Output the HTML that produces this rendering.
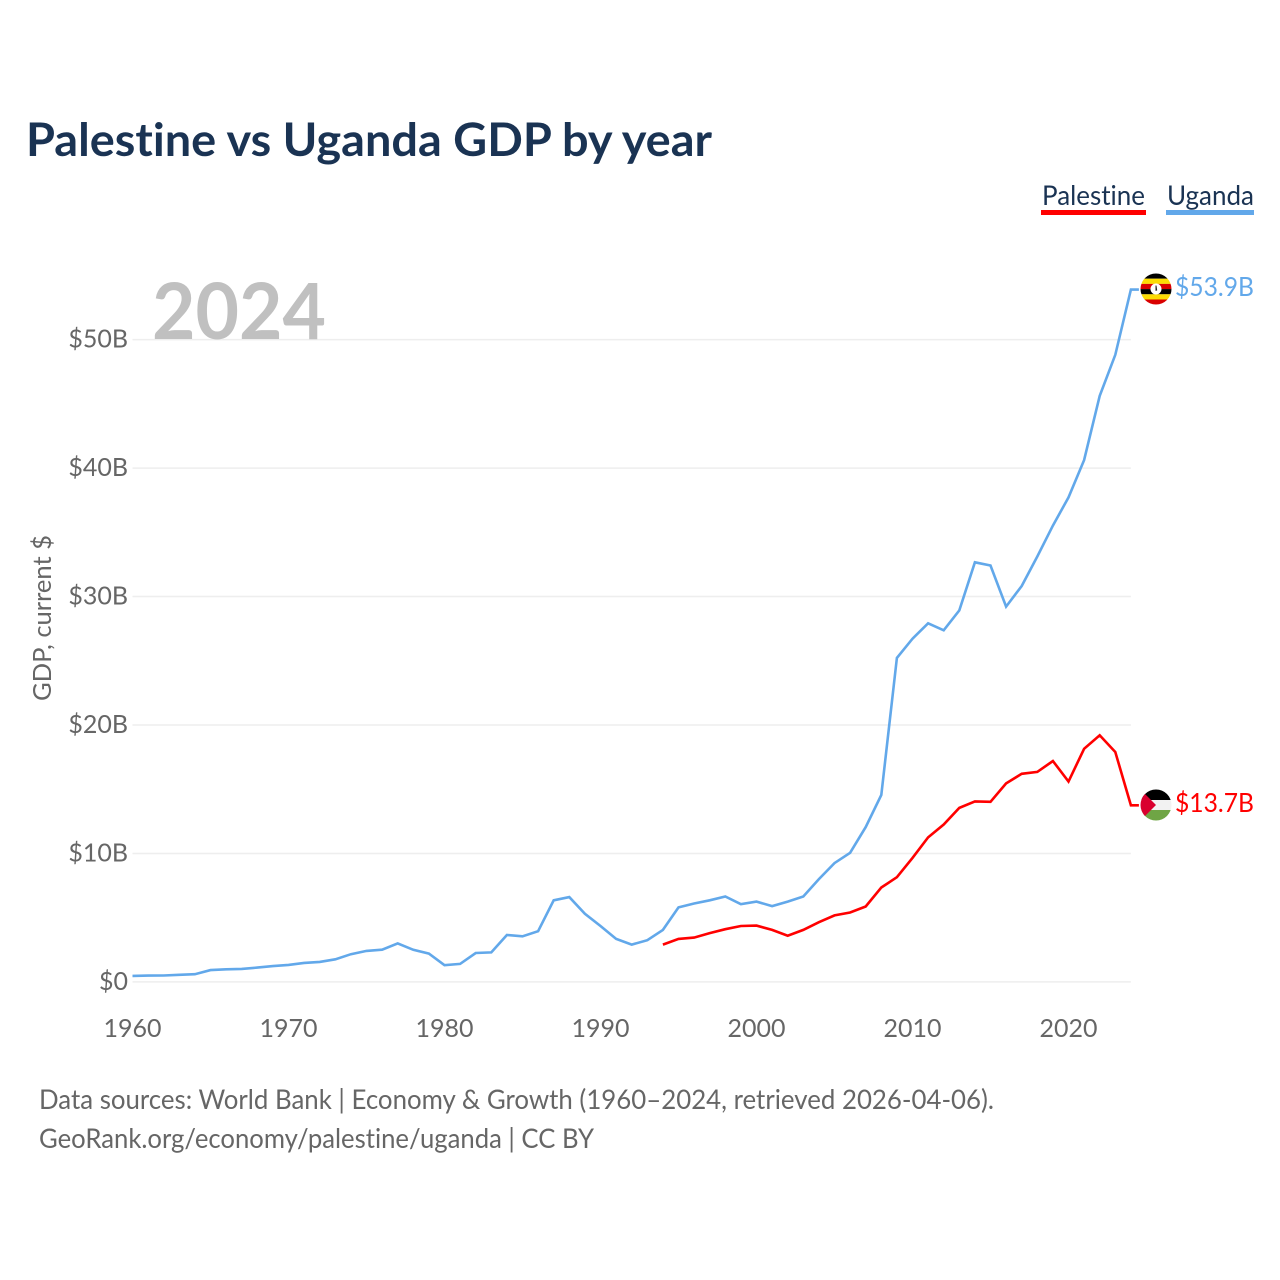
<!DOCTYPE html>
<html lang="en">
<head>
<meta charset="utf-8">
<title>Palestine vs Uganda GDP by year</title>
<style>
html,body{margin:0;padding:0;background:#fff;width:1280px;height:1280px;overflow:hidden}
svg{display:block}
text{font-family:"Lato","Carlito","Liberation Sans",sans-serif;font-variant-ligatures:none;font-feature-settings:"liga" 0,"clig" 0}
</style>
</head>
<body>
<svg id="chart" xmlns="http://www.w3.org/2000/svg" width="1280" height="1280" viewBox="0 0 1280 1280">
  <defs>
    <clipPath id="flag-clip-ug"><circle cx="1156" cy="289" r="15.5"/></clipPath>
    <clipPath id="flag-clip-ps"><circle cx="1156" cy="805" r="15.5"/></clipPath>
  </defs>
  <rect width="1280" height="1280" fill="#fff"/>
  <text x="26" y="156" font-size="46" font-weight="700" fill="#1a3353" textLength="686" lengthAdjust="spacingAndGlyphs">Palestine vs Uganda GDP by year</text>

  <g>
    <text x="1042" y="205" font-size="27" fill="#1a3353" textLength="103" lengthAdjust="spacingAndGlyphs">Palestine</text>
    <rect x="1041" y="210" width="105" height="5" fill="#ff0000"/>
  </g>
  <g>
    <text x="1167" y="205" font-size="27" fill="#1a3353" textLength="87" lengthAdjust="spacingAndGlyphs">Uganda</text>
    <rect x="1166" y="210" width="88" height="5" fill="#62a8ea"/>
  </g>

  <g id="grid"></g>
  <text x="152" y="339" font-size="78" font-weight="700" fill="#c0c0c0" textLength="174" lengthAdjust="spacingAndGlyphs">2024</text>
  <g id="yticks"></g>
  <g id="xticks"></g>
  <text transform="translate(51,701) rotate(-90)" font-size="25" fill="#666" textLength="166" lengthAdjust="spacingAndGlyphs">GDP, current $</text>

  <g id="series"></g>

  <g clip-path="url(#flag-clip-ug)">
    <rect x="1140" y="273.5" width="32" height="5.2" fill="#000"/>
    <rect x="1140" y="278.7" width="32" height="5.2" fill="#fcdc04"/>
    <rect x="1140" y="283.9" width="32" height="5.2" fill="#d90000"/>
    <rect x="1140" y="289.1" width="32" height="5.2" fill="#000"/>
    <rect x="1140" y="294.3" width="32" height="5.2" fill="#fcdc04"/>
    <rect x="1140" y="299.5" width="32" height="5.5" fill="#d90000"/>
    <circle cx="1156" cy="289" r="5.5" fill="#fff"/>
    <path d="M1155.5 285.5l1 0 .7 5-1.7 .4z" fill="#222"/>
  </g>
  <text x="1254" y="296" font-size="26" text-anchor="end" fill="#62a8ea" textLength="79" lengthAdjust="spacingAndGlyphs">$53.9B</text>

  <g clip-path="url(#flag-clip-ps)">
    <rect x="1140" y="789" width="32" height="11" fill="#000"/>
    <rect x="1140" y="800" width="32" height="10" fill="#f2f2f2"/>
    <rect x="1140" y="810" width="32" height="11" fill="#6fa545"/>
    <path d="M1140 789L1156 805L1140 821Z" fill="#d9002f"/>
  </g>
  <text x="1254" y="812" font-size="26" text-anchor="end" fill="#ff0000" textLength="79" lengthAdjust="spacingAndGlyphs">$13.7B</text>

  <text x="39" y="1109" font-size="27" fill="#666" textLength="955" lengthAdjust="spacingAndGlyphs">Data sources: World Bank | Economy &amp; Growth (1960–2024, retrieved 2026-04-06).</text>
  <text x="39" y="1148" font-size="27" fill="#666" textLength="555" lengthAdjust="spacingAndGlyphs">GeoRank.org/economy/palestine/uganda | CC BY</text>
</svg>
<script>
const firstYearUganda = 1960;
const firstYearPalestine = 1994;
const ugandaValues = [0.47,0.49,0.5,0.55,0.6,0.92,0.98,1.01,1.11,1.23,1.32,1.48,1.56,1.76,2.16,2.41,2.51,3.0,2.5,2.2,1.3,1.4,2.25,2.3,3.65,3.55,3.95,6.35,6.6,5.3,4.35,3.35,2.9,3.25,4.05,5.8,6.1,6.35,6.65,6.05,6.25,5.9,6.25,6.65,8.0,9.25,10.05,12.05,14.55,25.22,26.72,27.92,27.37,28.92,32.67,32.42,29.22,30.82,33.12,35.52,37.72,40.62,45.62,48.82,53.9];
const palestineValues = [2.9,3.35,3.45,3.8,4.1,4.35,4.38,4.05,3.6,4.05,4.65,5.18,5.4,5.87,7.35,8.15,9.65,11.25,12.25,13.55,14.05,14.02,15.45,16.2,16.35,17.2,15.6,18.15,19.2,17.9,13.75];
const yTickValues = [0,10,20,30,40,50];
const yTickLabels = ['$0','$10B','$20B','$30B','$40B','$50B'];
const xTickYears = [1960,1970,1980,1990,2000,2010,2020];

const SVGNS = 'http://www.w3.org/2000/svg';
function xScale(year){ return 132.5 + (year - 1960) * 15.6; }
function yScale(value){ return 981.9 - value * 12.845; }

const grid = document.getElementById('grid');
const yticks = document.getElementById('yticks');
const xticks = document.getElementById('xticks');
const series = document.getElementById('series');

yTickValues.forEach(function(v, i){
  const line = document.createElementNS(SVGNS, 'line');
  
  
  line.setAttribute('x1', xScale(1960));
  line.setAttribute('x2', xScale(2024));
  line.setAttribute('y1', yScale(v));
  line.setAttribute('y2', yScale(v));
  line.setAttribute('stroke', '#eeeeee');
  line.setAttribute('stroke-width', '1.5');
  grid.appendChild(line);

  const t = document.createElementNS(SVGNS, 'text');
  
  
  t.setAttribute('x', 128);
  t.setAttribute('y', yScale(v) + 8);
  t.setAttribute('text-anchor', 'end');
  t.setAttribute('font-size', '25');
  t.setAttribute('fill', '#666');
  t.textContent = yTickLabels[i];
  yticks.appendChild(t);
});

xTickYears.forEach(function(y){
  const t = document.createElementNS(SVGNS, 'text');
  
  
  t.setAttribute('x', xScale(y));
  t.setAttribute('y', 1037);
  t.setAttribute('text-anchor', 'middle');
  t.setAttribute('font-size', '25');
  t.setAttribute('fill', '#666');
  t.textContent = String(y);
  xticks.appendChild(t);
});

function pathFor(values, startYear){
  const pts = values.map(function(v, i){
    return xScale(startYear + i).toFixed(1) + ',' + yScale(v).toFixed(1);
  });
  const last = values[values.length - 1];
  pts.push((xScale(startYear + values.length - 1) + 8).toFixed(1) + ',' + yScale(last).toFixed(1));
  return 'M' + pts.join('L');
}

const ugandaLine = document.createElementNS(SVGNS, 'path');


ugandaLine.setAttribute('d', pathFor(ugandaValues, firstYearUganda));
ugandaLine.setAttribute('fill', 'none');
ugandaLine.setAttribute('stroke', '#62a8ea');
ugandaLine.setAttribute('stroke-width', '2.6');
series.appendChild(ugandaLine);

const palestineLine = document.createElementNS(SVGNS, 'path');


palestineLine.setAttribute('d', pathFor(palestineValues, firstYearPalestine));
palestineLine.setAttribute('fill', 'none');
palestineLine.setAttribute('stroke', '#ff0000');
palestineLine.setAttribute('stroke-width', '2.6');
series.appendChild(palestineLine);
</script>
</body>
</html>
